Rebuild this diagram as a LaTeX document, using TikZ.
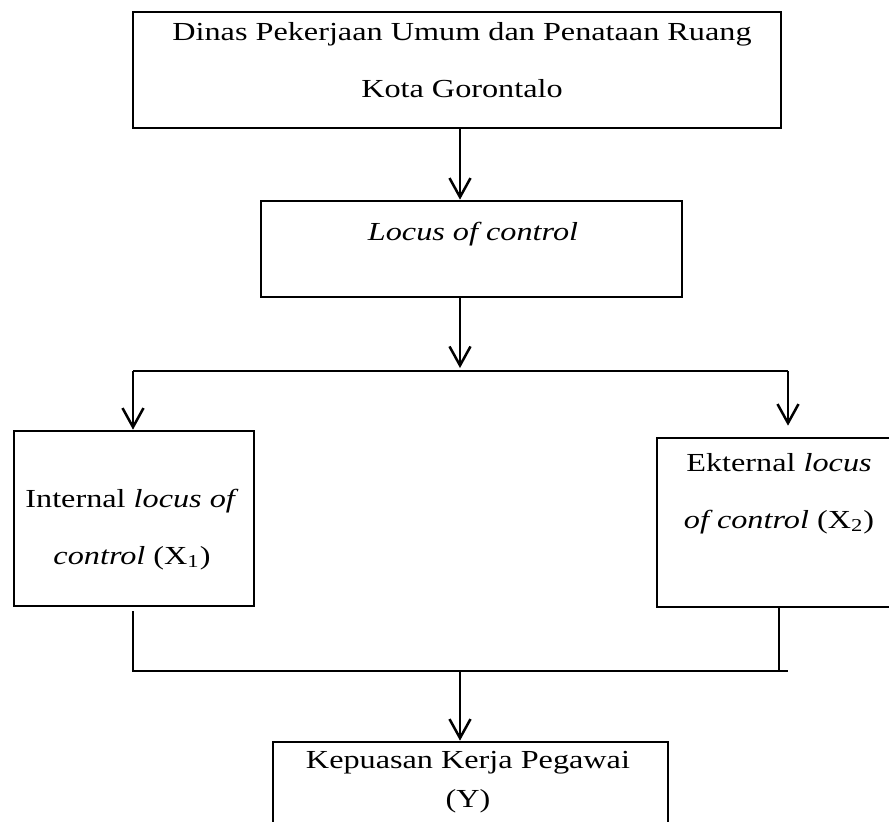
\documentclass[tikz,border=0pt]{standalone}
\usepackage{fontspec}
\setmainfont{Liberation Serif}[FakeStretch=1.24]
\usetikzlibrary{arrows.meta,positioning}

\begin{document}
\begin{tikzpicture}[x=0.5pt, y=-0.5pt,
  box/.style={draw, line width=1.35pt, inner sep=0pt},
  txt/.style={inner sep=0pt, align=center, font=\fontsize{13}{28.5}\selectfont},
  arr/.style={-{Straight Barb[length=9.5pt,width=10.5pt]}, line width=1.25pt},
  link/.style={line width=1.15pt}]
  \clip (0,0) rectangle (889,821);
  % Boxes
  \node[box, minimum width=324pt, minimum height=58pt] (dinas) at (457,70) {};
  \node[box, minimum width=210.5pt, minimum height=48pt] (loc) at (471.5,249) {};
  \node[box, minimum width=120pt, minimum height=87.5pt] (intern) at (134,518.5) {};
  \node[box, minimum width=122pt, minimum height=84.5pt] (ekstern) at (779,522.5) {};
  \node[box, minimum width=197.5pt, minimum height=69pt] (kepuasan) at (470.5,811) {};
  % Texts (base = last line)
  \node[txt, anchor=base] (dinas-t) at (462,97) {Dinas Pekerjaan Umum dan Penataan Ruang\\Kota Gorontalo};
  \node[txt, anchor=base] (loc-t) at (473,240) {\textit{Locus of control}};
  \node[txt, anchor=base] (intern-t) at (132,564) {Internal \textit{locus of}\\\textit{control} (X\textsubscript{1})};
  \node[txt, anchor=base] (ekstern-t) at (779,528) {Ekternal \textit{locus}\\\textit{of control} (X\textsubscript{2})};
  \node[txt, anchor=base, font=\fontsize{13}{19.5}\selectfont] (kepuasan-t) at (468,807) {Kepuasan Kerja Pegawai\\(Y)};
  % Branch points
  \coordinate (split) at (460,368);
  \coordinate (top-l) at (133,371);
  \coordinate (top-r) at (788,371);
  \coordinate (bot-l) at (133,671);
  \coordinate (bot-r) at (788,671);
  \coordinate (bot-x) at (779,671);
  % Connectors
  \draw[arr] (dinas.south -| split) -- (loc.north -| split);
  \draw[arr] (loc.south -| split) -- (split);
  \draw[link] (top-l) -- (top-r);
  \draw[arr] (top-l) -- (intern.north -| top-l);
  \draw[arr, shorten >=5.5pt] (top-r) -- (ekstern.north -| top-r);
  \draw[link] ([yshift=-2pt]intern.south -| bot-l) -- (bot-l) -- (bot-r);
  \draw[link] (ekstern.south -| bot-x) -- (bot-x);
  \draw[arr] (bot-l -| split) -- (kepuasan.north -| split);
\end{tikzpicture}
\end{document}
